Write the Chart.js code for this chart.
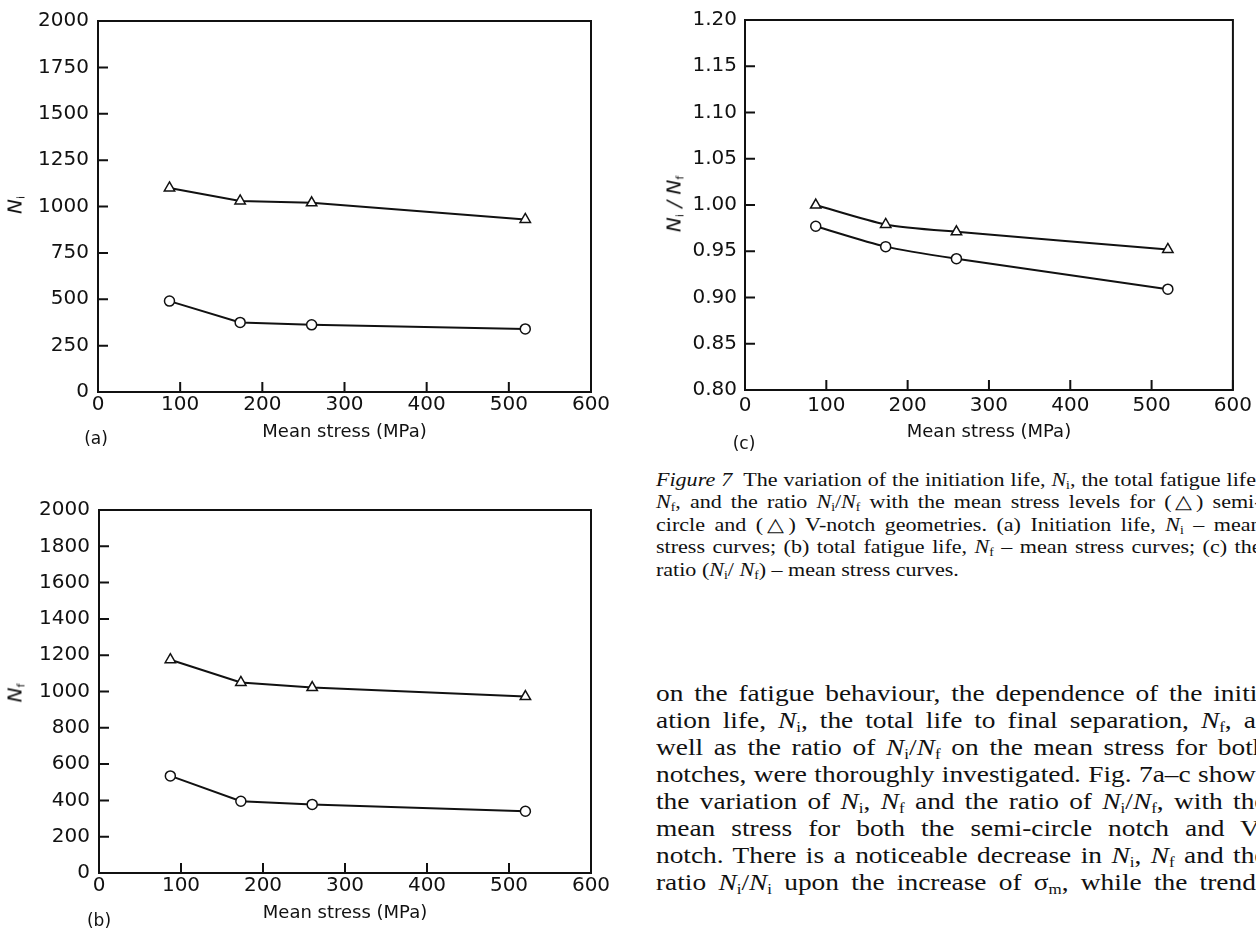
<!DOCTYPE html>
<html>
<head>
<meta charset="utf-8">
<script src="https://cdn.jsdelivr.net/npm/chart.js@4.4.1/dist/chart.umd.min.js"></script>
<style>
  html, body { margin: 0; padding: 0; background: #fff; }
  body { width: 1256px; height: 929px; position: relative; overflow: hidden; }
  canvas { position: absolute; }
  .ytitle, .panel { position: absolute; font-family: "DejaVu Sans", sans-serif; color: #111; white-space: nowrap; }
  .ytitle { font-size: 20px; font-style: italic; transform: translate(-50%, -50%) rotate(-90deg); }
  .ytitle sub { font-size: 11px; font-style: normal; vertical-align: -3px; }
  .panel { font-size: 17px; transform: translate(-50%, -50%); }
  .line { position: absolute; left: 656px; white-space: nowrap; font-family: "Liberation Serif", "Times New Roman", serif;
          color: #111; transform-origin: 0 50%; text-align: justify; text-align-last: justify; }
  .cap { font-size: 19px; line-height: 22px; height: 22px; width: 522px; transform: scaleX(1.16); }
  .txt { font-size: 23px; line-height: 27px; height: 27px; width: 513px; transform: scaleX(1.19); }
  .line sub { font-size: 0.62em; vertical-align: -0.25em; line-height: 0; }
  .last { text-align-last: left; }
</style>
</head>
<body>
<canvas id="chartA" width="620" height="450" style="left:0;top:0"></canvas>
<canvas id="chartB" width="620" height="449" style="left:0;top:480px"></canvas>
<canvas id="chartC" width="616" height="450" style="left:640px;top:0"></canvas>

<div class="ytitle" style="left:15px;top:205px">N<sub>i</sub></div>
<div class="ytitle" style="left:15px;top:693px">N<sub>f</sub></div>
<div class="ytitle" style="left:674px;top:204px">N<sub>i</sub> / N<sub>f</sub></div>
<div class="panel" style="left:96px;top:438px">(a)</div>
<div class="panel" style="left:99px;top:920px">(b)</div>
<div class="panel" style="left:744px;top:443px">(c)</div>

<div class="line cap" style="top:469px"><i>Figure 7</i>&ensp;The variation of the initiation life, <i>N</i><sub>i</sub>, the total fatigue life,</div>
<div class="line cap" style="top:491px"><i>N</i><sub>f</sub>, and the ratio <i>N</i><sub>i</sub>/<i>N</i><sub>f</sub> with the mean stress levels for (△) semi-</div>
<div class="line cap" style="top:514px">circle and (△) V-notch geometries. (a) Initiation life, <i>N</i><sub>i</sub> – mean</div>
<div class="line cap" style="top:536px">stress curves; (b) total fatigue life, <i>N</i><sub>f</sub> – mean stress curves; (c) the</div>
<div class="line cap last" style="top:559px">ratio (<i>N</i><sub>i</sub>/ <i>N</i><sub>f</sub>) – mean stress curves.</div>

<div class="line txt" style="top:680px">on the fatigue behaviour, the dependence of the initi-</div>
<div class="line txt" style="top:707px">ation life, <i>N</i><sub>i</sub>, the total life to final separation, <i>N</i><sub>f</sub>, as</div>
<div class="line txt" style="top:734px">well as the ratio of <i>N</i><sub>i</sub>/<i>N</i><sub>f</sub> on the mean stress for both</div>
<div class="line txt" style="top:761px">notches, were thoroughly investigated. Fig. 7a–c shows</div>
<div class="line txt" style="top:788px">the variation of <i>N</i><sub>i</sub>, <i>N</i><sub>f</sub> and the ratio of <i>N</i><sub>i</sub>/<i>N</i><sub>f</sub>, with the</div>
<div class="line txt" style="top:815px">mean stress for both the semi-circle notch and V-</div>
<div class="line txt" style="top:842px">notch. There is a noticeable decrease in <i>N</i><sub>i</sub>, <i>N</i><sub>f</sub> and the</div>
<div class="line txt" style="top:869px">ratio <i>N</i><sub>i</sub>/<i>N</i><sub>i</sub> upon the increase of σ<sub>m</sub>, while the trends</div>

<script>
// mean stress levels (MPa)
const stress = [87, 173, 260, 520];

// (a) initiation life Ni
const aTri  = [1100, 1030, 1020, 930];
const aCirc = [490, 375, 362, 340];

// (b) total fatigue life Nf
const bTri  = [1175, 1050, 1022, 972];
const bCirc = [535, 395, 378, 340];

// (c) ratio Ni/Nf
const cTri  = [1.000, 0.979, 0.971, 0.952];
const cCirc = [0.977, 0.955, 0.942, 0.909];

// axis ranges: [min, max, step]
const xRange = [0, 600, 100];
const aRange = [0, 2000, 250];
const bRange = [0, 2000, 200];
const cRange = [0.80, 1.20, 0.05];

const INK = '#111';
const FONT = '"DejaVu Sans", sans-serif';

// box round the plot + short inward ticks
const frameTicks = {
    id: 'frameTicks',
    beforeDatasetsDraw(chart) {
        const { ctx, chartArea: a, scales: { x, y } } = chart;
        ctx.save();
        ctx.strokeStyle = INK;
        ctx.lineWidth = 2;
        ctx.strokeRect(a.left, a.top, a.right - a.left, a.bottom - a.top);
        ctx.beginPath();
        x.ticks.forEach(t => {
            const px = x.getPixelForValue(t.value);
            ctx.moveTo(px, a.bottom); ctx.lineTo(px, a.bottom - 10);
        });
        y.ticks.forEach(t => {
            const py = y.getPixelForValue(t.value);
            ctx.moveTo(a.left, py); ctx.lineTo(a.left + 10, py);
        });
        ctx.stroke();
        ctx.restore();
    }
};

const pts = vals => vals.map((v, i) => ({ x: stress[i], y: v }));

function series(vals, style, tension) {
    return {
        data: pts(vals),
        borderColor: INK,
        borderWidth: 2,
        tension: tension,
        pointStyle: style,
        pointRadius: style === 'triangle' ? 6 : 5,
        pointBorderWidth: 1.5,
        pointBorderColor: INK,
        pointBackgroundColor: '#fff',
    };
}

function makeChart(id, tri, circ, yr, o) {
    return new Chart(document.getElementById(id), {
        type: 'line',
        data: { datasets: [series(tri, 'triangle', o.tension), series(circ, 'circle', o.tension)] },
        options: {
            responsive: false,
            animation: false,
            devicePixelRatio: 1,
            layout: { padding: { left: 0, top: o.top, right: o.right, bottom: 0 } },
            plugins: { legend: { display: false }, tooltip: { enabled: false } },
            scales: {
                x: {
                    type: 'linear',
                    min: xRange[0], max: xRange[1],
                    grid: { display: false, drawTicks: false },
                    border: { display: false },
                    ticks: { stepSize: xRange[2], color: INK, padding: o.xPad, maxRotation: 0,
                             font: { family: FONT, size: 20 } },
                    title: { display: true, text: 'Mean stress (MPa)', color: INK,
                             font: { family: FONT, size: 18 }, padding: { top: 0, bottom: o.titlePad } },
                    afterFit: s => { s.height = o.xH; },
                },
                y: {
                    min: yr[0], max: yr[1],
                    grid: { display: false, drawTicks: false },
                    border: { display: false },
                    ticks: { stepSize: yr[2], color: INK, padding: o.yPad,
                             font: { family: FONT, size: 20 },
                             callback: o.fmt },
                    afterFit: s => { s.width = o.yW; },
                },
            },
        },
        plugins: [frameTicks],
    });
}

makeChart('chartA', aTri, aCirc, aRange,
    { top: 19, right: 29, xH: 58, yW: 98, xPad: 1, yPad: 9, titlePad: 7, tension: 0, fmt: v => v });
makeChart('chartB', bTri, bCirc, bRange,
    { top: 30, right: 29, xH: 56, yW: 99, xPad: 1, yPad: 9, titlePad: 5, tension: 0, fmt: v => v });
makeChart('chartC', cTri, cCirc, cRange,
    { top: 17, right: 19, xH: 60, yW: 105, xPad: 4, yPad: 8, titlePad: 7, tension: 0.25, fmt: v => v.toFixed(2) });
</script>
</body>
</html>
